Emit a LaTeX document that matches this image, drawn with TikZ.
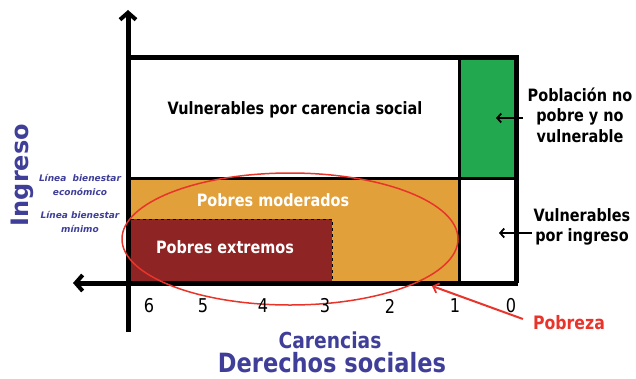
\documentclass[tikz,border=0pt]{standalone}
\usepackage{fontspec}
\setmainfont{DejaVu Sans}
\newfontfamily\condf[FakeStretch=0.85]{DejaVu Sans}
\usetikzlibrary{arrows.meta}
\definecolor{cOrange}{HTML}{E2A03A}
\definecolor{cDark}{HTML}{8E2424}
\definecolor{cGreen}{HTML}{22A84E}
\definecolor{cBlue}{HTML}{3F3F99}
\definecolor{cRed}{HTML}{E8342A}
\tikzset{
  axisline/.style={line width=5pt,-{Straight Barb[length=7pt,width=16pt,line width=4pt]}},
  frame/.style={line width=5pt},
  inner/.style={line width=3pt},
  lbl/.style={font=\condf\bfseries\fontsize{17}{19}\selectfont,align=center,inner sep=0pt},
  wlbl/.style={lbl,text=white},
  sidelbl/.style={font=\condf\bfseries\fontsize{17}{20.5}\selectfont,align=center,inner sep=0pt},
  tick/.style={font=\condf\fontsize{19}{19}\selectfont,inner sep=0pt},
  linea/.style={font=\bfseries\itshape\fontsize{9}{14}\selectfont,text=cBlue,align=center,inner sep=0pt},
  ptr/.style={line width=2pt,-{Straight Barb[length=4pt,width=9pt,line width=1.8pt]}},
}
\begin{document}
\begin{tikzpicture}[x=1pt,y=-1pt]
\useasboundingbox (0,0) rectangle (636,378);
% fills
\fill[cOrange] (128,178) rectangle (459,283);
\fill[cDark] (131,219) rectangle (332,283);
\draw[dashed,line width=0.8pt] (131,219) -- (332,219) -- (332,283);
\fill[cGreen] (459,57) rectangle (516,178);
% frame
\draw[inner] (128,178) -- (516,178);
\draw[inner] (459,57) -- (459,283);
\draw[frame] (128,57) -- (516,57) -- (516,283);
% axes
\coordinate (ybot) at (128,332);
\coordinate (ytop) at (128,10);
\coordinate (xright) at (518,283);
\coordinate (xleft) at (73,283);
\draw[axisline] (ybot) -- (ytop);
\draw[axisline] (xright) -- (xleft);
% ellipse
\draw[cRed,line width=1.5pt] (290,239) ellipse [x radius=168, y radius=66];
% region labels
\node[lbl] (vcs) at (295,110) {Vulnerables por carencia social};
\node[wlbl] (pm) at (273,200) {Pobres moderados};
\node[wlbl] (pe) at (225,247) {Pobres extremos};
% ticks
\node[tick] (t6) at (149,306) {6};
\node[tick] (t5) at (203,306) {5};
\node[tick] (t4) at (263,306) {4};
\node[tick] (t3) at (325,306) {3};
\node[tick] (t2) at (390,306) {2};
\node[tick] (t1) at (455,306) {1};
\node[tick] (t0) at (511,306) {0};
% right labels
\node[sidelbl] (pnp) at (580,115) {Población no\\pobre y no\\vulnerable};
\node[sidelbl] (vpi) at (582,227) {Vulnerables\\por ingreso};
\coordinate (pnpTip) at (496,118);
\coordinate (vpiTip) at (499,233);
\draw[ptr] (pnp.west |- pnpTip) ++(-5,0) coordinate (pnpS) (pnpS) -- (pnpTip);
\draw[ptr] (vpi.west |- vpiTip) ++(-2,0) coordinate (vpiS) (vpiS) -- (vpiTip);
% pobreza
\node[font=\condf\bfseries\fontsize{18.5}{18.5}\selectfont,text=cRed,inner sep=0pt] (pob) at (569,323) {Pobreza};
\coordinate (pobTip) at (432,286);
\draw[cRed,line width=2pt,-{Straight Barb[length=5pt,width=10pt,line width=1.8pt]}] (pob.west) ++(-10,-4) coordinate (pobS) (pobS) -- (pobTip);
% axis titles
\node[font=\condf\bfseries\fontsize{22}{22}\selectfont,text=cBlue,inner sep=0pt] (car) at (330,340) {Carencias};
\node[font=\condf\bfseries\fontsize{26.5}{26.5}\selectfont,text=cBlue,inner sep=0pt] (der) at (332,363) {Derechos sociales};
\node[font=\bfseries\fontsize{24}{24}\selectfont,text=cBlue,rotate=90,inner sep=0pt] (ing) at (22,175) {Ingreso};
\node[linea] (lbe) at (80,185) {Línea\ \ bienestar\\económico};
\node[linea] (lbm) at (80,222) {Línea bienestar\\mínimo};
\end{tikzpicture}
\end{document}
